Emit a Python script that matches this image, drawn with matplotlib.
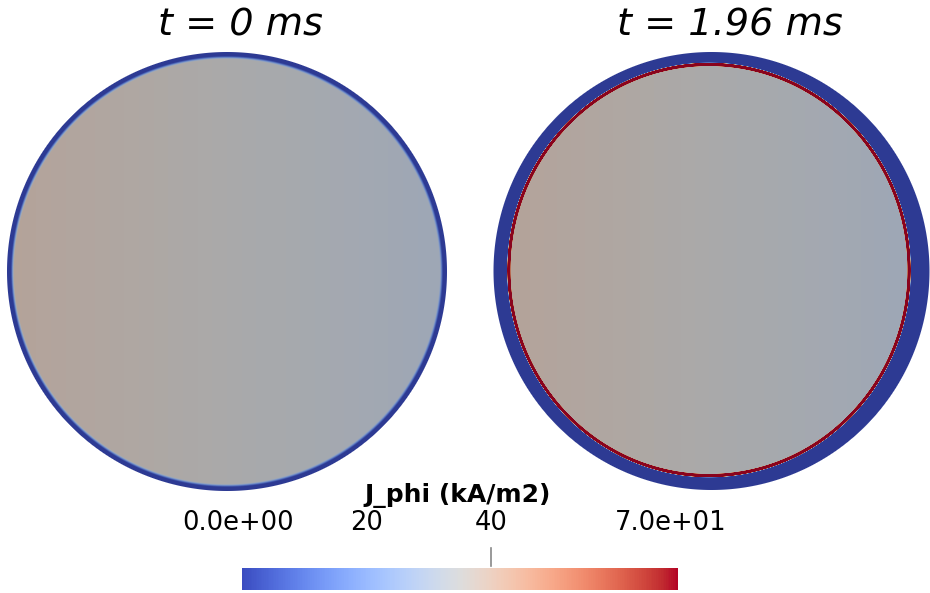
import numpy as np
import matplotlib.pyplot as plt
from matplotlib.colors import Normalize, ListedColormap
from matplotlib.cm import ScalarMappable
from matplotlib.transforms import blended_transform_factory

# J_phi (kA/m2) in the two snapshots
times_ms = ["0", "1.96"]
j_inboard = [39.0, 39.0]    # core value at the left edge
j_outboard = [31.0, 31.0]   # core value at the right edge
j_wall = [0.0, 0.0]         # outer shell
j_sheet = [0.0, 70.0]       # thin current sheet at the core edge
j_min, j_max = 0.0, 70.0
cbar_ticks = [0, 20, 40, 70]
cbar_labels = ["0.0e+00", "20", "40", "7.0e+01"]

W, H = 930, 593
# pixel layout: (cx, cy, rx, ry)
outer = [(227, 271.5, 220, 219.5), (711.5, 271, 218, 219)]
core = [(227, 271.5, 214.5, 214.0), (709, 270, 201.5, 207)]
edge_start = [-2.0, 0.0]
edge_width = [4.0, 0.8]
title_x = [240, 730]
label_x = [238, 367, 491, 671]
shade = 0.77

fig = plt.figure(figsize=(W / 100, H / 100), dpi=100)
ax = fig.add_axes([0, 0, 1, 1])
ax.set_xlim(0, W)
ax.set_ylim(H, 0)
ax.axis("off")

norm = Normalize(j_min, j_max)
base = plt.get_cmap("coolwarm")
lit = base(np.linspace(0, 1, 256))
lit[:, :3] *= shade
lit_cmap = ListedColormap(lit)

yy, xx = np.mgrid[0:H, 0:W] + 0.5
for i in range(2):
    ocx, ocy, orx, ory = outer[i]
    ccx, ccy, crx, cry = core[i]
    ro = np.sqrt(((xx - ocx) / orx) ** 2 + ((yy - ocy) / ory) ** 2)
    rc = np.sqrt(((xx - ccx) / crx) ** 2 + ((yy - ccy) / cry) ** 2)
    d = (rc - 1) * 0.5 * (crx + cry)
    frac = np.clip((xx - (ccx - crx)) / (2 * crx), 0, 1)
    core_val = j_inboard[i] + (j_outboard[i] - j_inboard[i]) * frac
    sheet = np.clip(1 - (np.abs(d + 1.4) - 1.4) / 1.0, 0, 1)
    core_val = np.maximum(core_val, j_sheet[i] * sheet)
    s = np.clip((d - edge_start[i]) / edge_width[i], 0, 1)
    s = s * s * (3 - 2 * s)
    val = core_val * (1 - s) + j_wall[i] * s
    alpha = np.clip((1 - ro) * 0.5 * (orx + ory) + 0.5, 0, 1)
    ax.imshow(val, cmap=lit_cmap, norm=norm, alpha=alpha, extent=(0, W, H, 0),
              interpolation="nearest", origin="upper", zorder=2)
    fig.text(title_x[i] / W, 1 - 36 / H, f"t = {times_ms[i]} ms", ha="center",
             va="baseline", fontsize=27.5, style="italic", family="DejaVu Sans")

cax = fig.add_axes([242 / W, 1 - 590 / H, 436 / W, 22 / H])
cb = fig.colorbar(ScalarMappable(norm=norm, cmap=base), cax=cax, orientation="horizontal")
cb.set_ticks([])
cb.outline.set_visible(False)
for px, lab in zip(label_x, cbar_labels):
    fig.text(px / W, 1 - 530 / H, lab, ha="center", va="baseline",
             fontsize=18.5, family="DejaVu Sans")
tr = blended_transform_factory(cax.transData, cax.transAxes)
cax.plot([cbar_ticks[2]] * 2, [1.09, 1.91], transform=tr, color="#888888", lw=1.2,
         clip_on=False)
fig.text(458 / W, 1 - 502 / H, "J_phi (kA/m2)", ha="center", va="baseline",
         fontsize=18, fontweight="bold", family="DejaVu Sans")

fig.savefig("out.png", dpi=100)
